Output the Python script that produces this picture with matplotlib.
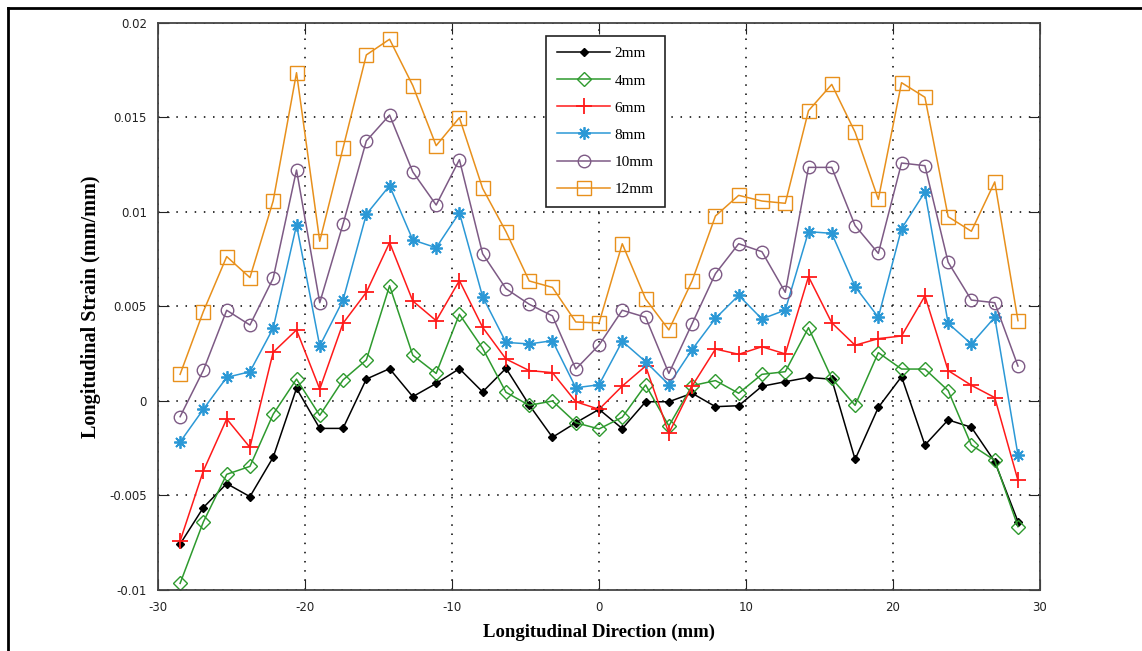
import matplotlib.pyplot as plt
from matplotlib.lines import Line2D

plt.rcParams["axes.unicode_minus"] = False

# Measurement positions along the specimen (mm)
x_pos = [-28.50, -26.92, -25.33, -23.75, -22.17, -20.58, -19.00, -17.42, -15.83,
         -14.25, -12.67, -11.08, -9.50, -7.92, -6.33, -4.75, -3.17, -1.58, 0.00,
         1.58, 3.17, 4.75, 6.33, 7.92, 9.50, 11.08, 12.67, 14.25, 15.83, 17.42,
         19.00, 20.58, 22.17, 23.75, 25.33, 26.92, 28.50]

# Longitudinal strain (mm/mm) for each depth
strain_2mm = [-0.00757, -0.00564, -0.00437, -0.00506, -0.00298, 0.00067, -0.00145,
              -0.00145, 0.00116, 0.00171, 0.00023, 0.00093, 0.00171, 0.00048,
              0.00173, -0.00021, -0.00192, -0.00115, -0.00044, -0.00146, -0.00004,
              -0.00004, 0.00041, -0.00030, -0.00025, 0.00078, 0.00102, 0.00125,
              0.00115, -0.00309, -0.00034, 0.00129, -0.00233, -0.00100, -0.00139,
              -0.00321, -0.00638]
strain_4mm = [-0.00965, -0.00640, -0.00388, -0.00346, -0.00070, 0.00116, -0.00076,
              0.00111, 0.00217, 0.00610, 0.00242, 0.00146, 0.00459, 0.00279,
              0.00046, -0.00023, 0.00000, -0.00115, -0.00148, -0.00086, 0.00085,
              -0.00132, 0.00081, 0.00108, 0.00041, 0.00141, 0.00155, 0.00388,
              0.00120, -0.00023, 0.00256, 0.00169, 0.00169, 0.00055, -0.00233,
              -0.00314, -0.00665]
strain_6mm = [-0.00741, -0.00370, -0.00095, -0.00245, 0.00258, 0.00376, 0.00063,
              0.00411, 0.00575, 0.00838, 0.00529, 0.00425, 0.00637, 0.00390,
              0.00222, 0.00161, 0.00150, -0.00004, -0.00044, 0.00079, 0.00185,
              -0.00171, 0.00079, 0.00275, 0.00247, 0.00287, 0.00249, 0.00658,
              0.00414, 0.00295, 0.00330, 0.00344, 0.00556, 0.00161, 0.00083,
              0.00018, -0.00420]
strain_8mm = [-0.00217, -0.00044, 0.00125, 0.00155, 0.00385, 0.00931, 0.00291,
              0.00533, 0.00988, 0.01139, 0.00852, 0.00811, 0.00996, 0.00552,
              0.00310, 0.00302, 0.00319, 0.00070, 0.00086, 0.00316, 0.00208,
              0.00086, 0.00272, 0.00437, 0.00559, 0.00434, 0.00481, 0.00896,
              0.00887, 0.00605, 0.00443, 0.00912, 0.01106, 0.00411, 0.00302,
              0.00443, -0.00286]
strain_10mm = [-0.00083, 0.00162, 0.00480, 0.00402, 0.00649, 0.01222, 0.00520,
               0.00935, 0.01376, 0.01513, 0.01212, 0.01037, 0.01277, 0.00779,
               0.00594, 0.00512, 0.00450, 0.00169, 0.00296, 0.00480, 0.00443,
               0.00146, 0.00409, 0.00674, 0.00832, 0.00790, 0.00575, 0.01236,
               0.01236, 0.00928, 0.00781, 0.01259, 0.01245, 0.00734, 0.00534,
               0.00520, 0.00185]
strain_12mm = [0.00141, 0.00473, 0.00764, 0.00653, 0.01058, 0.01737, 0.00845,
               0.01337, 0.01831, 0.01914, 0.01669, 0.01351, 0.01499, 0.01125,
               0.00896, 0.00635, 0.00601, 0.00418, 0.00413, 0.00832, 0.00540,
               0.00376, 0.00635, 0.00979, 0.01088, 0.01058, 0.01046, 0.01536,
               0.01675, 0.01422, 0.01067, 0.01684, 0.01607, 0.00975, 0.00898,
               0.01159, 0.00425]

labels = ["2mm", "4mm", "6mm", "8mm", "10mm", "12mm"]
x_ticks = [-30, -20, -10, 0, 10, 20, 30]
y_ticks = [-0.01, -0.005, 0, 0.005, 0.01, 0.015, 0.02]
y_tick_labels = ["-0.01", "-0.005", "0", "0.005", "0.01", "0.015", "0.02"]

series = [strain_2mm, strain_4mm, strain_6mm, strain_8mm, strain_10mm, strain_12mm]
styles = [
    dict(color="black", marker="D", ms=4, mfc="black"),
    dict(color="#2e9a2e", marker="D", ms=7, mfc="none"),
    dict(color="#ff1a1a", marker="+", ms=12, mew=1.3),
    dict(color="#2b98d6", marker=(8, 2, 0), ms=9, mew=1.3),
    dict(color="#7d5a85", marker="o", ms=9, mfc="none"),
    dict(color="#e8901c", marker="s", ms=10, mfc="none"),
]

fig = plt.figure(figsize=(11.42, 6.51), dpi=100)
ax = fig.add_axes([0.1384, 0.0937, 0.7723, 0.8710])

for ys, lab, st in zip(series, labels, styles):
    ax.plot(x_pos, ys, lw=1.1, label=lab, **st)

ax.set_xlim(-30, 30)
ax.set_ylim(-0.01, 0.02)
ax.set_xticks(x_ticks)
ax.set_yticks(y_ticks)
ax.set_yticklabels(y_tick_labels)
ax.tick_params(direction="in", length=8, top=True, right=True,
               labelsize=8.5, pad=8, colors="#222222")
ax.grid(True, color="black", linestyle=(0, (1, 5)), linewidth=1.1)
for sp in ax.spines.values():
    sp.set_color("#444444")
    sp.set_linewidth(1.3)

ax.set_xlabel("Longitudinal Direction (mm)", fontsize=13.5, fontweight="bold",
              family="Liberation Serif", labelpad=7)
ax.set_ylabel("Longitudinal Strain (mm/mm)", fontsize=14.5, fontweight="bold",
              family="Liberation Serif", labelpad=6)

leg = ax.legend(loc="upper left", bbox_to_anchor=(0.440, 0.977), frameon=True,
                fancybox=False, edgecolor="#222222", framealpha=1,
                borderaxespad=0,
                prop={"family": "Liberation Serif", "size": 11},
                handlelength=3.5, labelspacing=0.88, borderpad=0.7,
                handletextpad=0.3)
leg.get_frame().set_linewidth(1.2)

# outer border around the figure
fig.add_artist(Line2D([0.007, 0.007], [0, 0.988], transform=fig.transFigure,
                      color="black", lw=2))
fig.add_artist(Line2D([0.007, 0.999], [0.988, 0.988], transform=fig.transFigure,
                      color="black", lw=2))

fig.savefig("out.png", dpi=100)
